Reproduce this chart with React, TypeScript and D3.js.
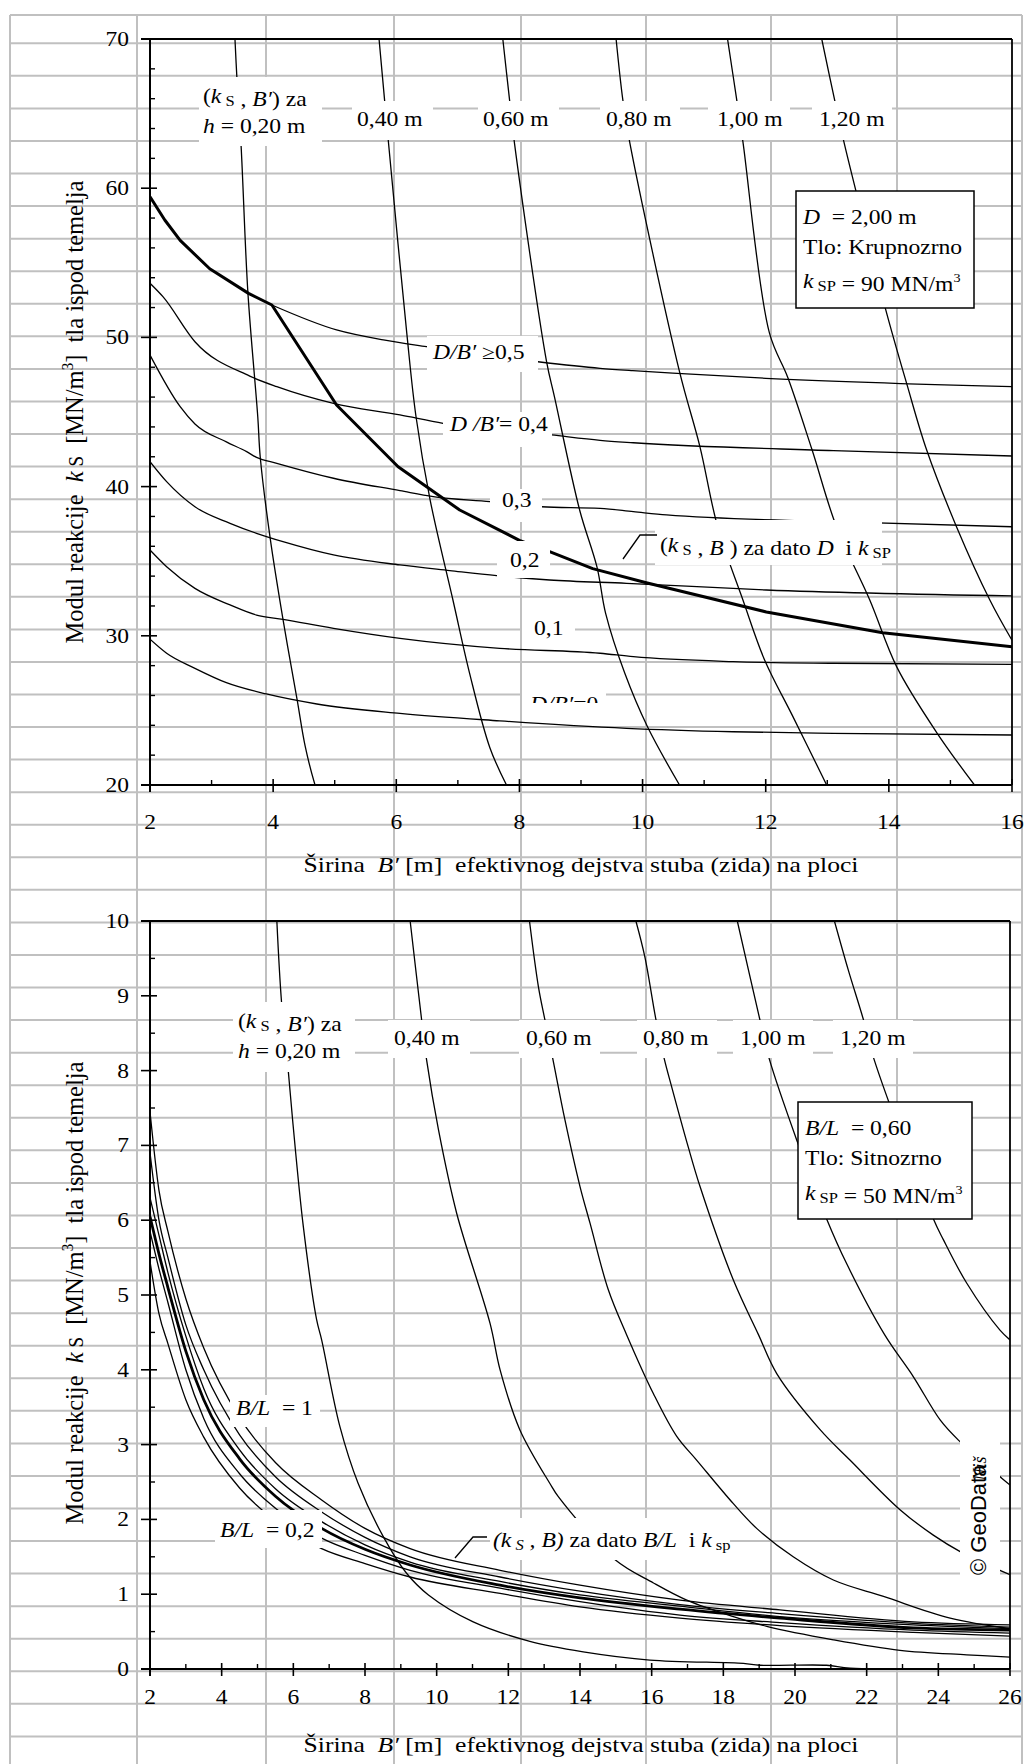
import * as d3 from 'd3';
import React from 'react';

// ---- top chart (D = 2,00 m, krupnozrno) : [B', ks] pairs ----
const topH020 = [[3.38, 70], [3.41, 67.5], [3.48, 62.8], [3.59, 53], [3.75, 44.7], [3.79, 42.0], [3.95, 36.6], [4.16, 31.1], [4.39, 25.7], [4.52, 22.6], [4.68, 20]];
const topH040 = [[5.72, 70], [5.81, 65.9], [5.87, 63.2], [6.17, 50.3], [6.32, 44.7], [6.55, 39.1], [6.92, 32.4], [7.19, 27.5], [7.52, 22.5], [7.79, 20]];
const topH060 = [[7.73, 70], [7.84, 65.9], [7.92, 63.0], [8.44, 48.4], [8.57, 46], [8.98, 38.4], [9.26, 34.6], [9.4, 31.5], [9.71, 27.5], [10.08, 23.9], [10.6, 20]];
const topH080 = [[9.57, 70], [9.68, 65.9], [9.79, 63.1], [10.6, 47.7], [10.93, 42.7], [11.22, 37.3], [11.63, 32.4], [11.98, 28.4], [12.44, 24.6], [12.99, 20]];
const topH100 = [[11.38, 70], [11.53, 65.9], [11.63, 63.1], [12.06, 50.3], [12.36, 47.3], [12.75, 42.5], [13.15, 37.3], [13.69, 32.4], [14.13, 27.9], [14.78, 23.5], [15.39, 20]];
const topH120 = [[12.91, 70], [13.12, 65.9], [13.27, 63.1], [13.46, 59.9], [13.94, 52.0], [14.29, 46.9], [14.61, 42.5], [15.1, 37.3], [15.64, 32.4], [16, 29.7]];

const dbGe05 = [[3.98, 52.17], [5.03, 50.5], [5.79, 49.83], [6.49, 49.38], [8.3, 48.37], [9.31, 47.93], [9.84, 47.77], [10.49, 47.6], [12.0, 47.26], [16, 46.7]];
const db04 = [[2, 53.63], [2.21, 52.73], [2.73, 49.71], [3.62, 47.41], [4.06, 46.7], [4.98, 45.58], [6.06, 44.8], [6.76, 44.24], [8.52, 43.46], [9.31, 43.1], [9.85, 42.94], [13.1, 42.41], [16, 42.05]];
const db03 = [[2, 48.82], [2.49, 45.36], [2.73, 44.2], [3.24, 43.0], [3.57, 42.34], [3.73, 41.96], [4.06, 41.56], [4.98, 40.56], [6.06, 39.73], [6.6, 39.33], [7.52, 38.99], [8.36, 38.65], [9.31, 38.54], [9.85, 38.32], [10.39, 38.1], [13.1, 37.65], [16, 37.31]];
const db02 = [[2, 41.67], [2.27, 40.33], [2.73, 38.65], [3.3, 37.54], [3.73, 36.87], [4.16, 36.31], [4.98, 35.42], [6.06, 34.75], [6.87, 34.37], [7.63, 34.03], [8.49, 33.74], [9.74, 33.52], [12.01, 33.07], [16, 32.67]];
const db01 = [[2, 35.75], [2.27, 34.63], [2.73, 33.18], [3.3, 32.07], [3.73, 31.39], [4.16, 31.1], [4.98, 30.5], [6.06, 29.83], [7.68, 29.16], [9.31, 28.83], [9.85, 28.6], [11.47, 28.27], [13.1, 28.16], [16, 28.09]];
const db00 = [[2, 29.77], [2.27, 28.83], [2.73, 27.82], [3.24, 26.86], [3.89, 26.1], [4.71, 25.43], [6.06, 24.8], [7.68, 24.3], [9.74, 23.8], [11.47, 23.57], [13.1, 23.46], [16, 23.35]];
const topGiven = [[2, 59.43], [2.24, 57.87], [2.49, 56.5], [2.97, 54.6], [3.6, 52.95], [3.98, 52.17], [5.03, 45.47], [6.03, 41.33], [7.03, 38.43], [8.0, 36.4], [8.49, 35.64], [9.19, 34.5], [10.06, 33.56], [12.01, 31.6], [13.9, 30.2], [16, 29.27]];

// ---- bottom chart (B/L = 0,60, sitnozrno) ----
const botH020 = [[5.54, 10], [5.67, 8.92], [5.86, 7.99], [5.98, 7.34], [6.28, 5.91], [6.65, 4.67], [6.79, 4.4], [7.3, 3.24], [7.81, 2.48], [8.51, 1.77], [9.16, 1.28], [9.77, 0.99], [11.02, 0.63], [12.6, 0.37], [14.09, 0.23], [15.95, 0.12], [18.56, 0.076], [19.02, 0.05], [20.88, 0.05], [21.54, 0.01], [26, 0]];
const botH040 = [[9.26, 10], [9.58, 8.68], [9.72, 8.14], [10.05, 7.21], [10.56, 6.09], [11.49, 4.62], [11.77, 4.0], [12.32, 3.2], [13.16, 2.48], [13.4, 2.3], [14.98, 1.46], [16.05, 1.15], [16.98, 0.92], [18.28, 0.7], [19.21, 0.57], [21.07, 0.39], [22.93, 0.25], [24.79, 0.19], [26, 0.16]];
const botH060 = [[12.59, 10], [12.84, 9.12], [13.02, 8.68], [13.24, 8.16], [13.58, 7.34], [14.0, 6.45], [14.28, 5.96], [14.79, 5.07], [15.3, 4.47], [16.05, 3.68], [16.7, 3.11], [17.26, 2.79], [18.28, 2.21], [18.93, 1.88], [19.95, 1.5], [21.07, 1.19], [22.47, 0.97], [24.33, 0.68], [26, 0.54]];
const botH080 = [[15.56, 10], [15.81, 9.52], [16.12, 8.68], [16.35, 8.16], [16.56, 7.78], [17.02, 6.98], [17.35, 6.45], [18.28, 5.2], [18.98, 4.47], [19.49, 3.95], [20.7, 3.2], [21.54, 2.79], [22.93, 2.13], [23.86, 1.79], [24.61, 1.57], [26, 1.26]];
const botH100 = [[18.39, 10], [19.02, 8.68], [19.28, 8.16], [20.05, 7.07], [20.88, 6.02], [21.44, 5.42], [22.5, 4.47], [23.3, 3.91], [24.05, 3.33], [24.56, 3.06], [25.77, 2.55], [26, 2.46]];
const botH120 = [[21.1, 10], [21.49, 9.34], [21.91, 8.68], [22.2, 8.16], [23.86, 6.02], [24.14, 5.74], [24.79, 5.16], [25.72, 4.53], [26, 4.4]];

const bundleB = [2, 2.25, 2.5, 3, 3.5, 4.5, 5.5, 6.79, 8, 9.26, 11.77, 14, 16.79, 19.58, 23.3, 26];
const blOne = [7.45, 6.4, 5.85, 4.95, 4.29, 3.36, 2.76, 2.26, 1.88, 1.61, 1.32, 1.12, 0.92, 0.79, 0.63, 0.59];
const blSecond = [6.9, 6.0, 5.5, 4.6, 4.0, 3.13, 2.57, 2.1, 1.76, 1.5, 1.23, 1.04, 0.86, 0.74, 0.61, 0.56];
const blThird = [6.3, 5.8, 5.3, 4.45, 3.75, 2.93, 2.41, 1.97, 1.66, 1.43, 1.17, 0.99, 0.84, 0.7, 0.59, 0.54];
const blGiven = [6.05, 5.55, 5.1, 4.25, 3.6, 2.81, 2.31, 1.88, 1.6, 1.39, 1.12, 0.95, 0.8, 0.68, 0.55, 0.52];
const blFourth = [5.85, 5.35, 4.9, 4.0, 3.35, 2.61, 2.15, 1.75, 1.52, 1.32, 1.08, 0.9, 0.72, 0.62, 0.52, 0.48];
const blPoint2 = [5.45, 4.75, 4.35, 3.6, 3.1, 2.42, 1.98, 1.61, 1.41, 1.23, 1.01, 0.83, 0.68, 0.58, 0.49, 0.44];

const hLabels = ['0,40 m', '0,60 m', '0,80 m', '1,00 m', '1,20 m'];
const topYTicks = [20, 30, 40, 50, 60, 70];
const topXTicks = [2, 4, 6, 8, 10, 12, 14, 16];
const botYTicks = [0, 1, 2, 3, 4, 5, 6, 7, 8, 9, 10];
const botXTicks = [2, 4, 6, 8, 10, 12, 14, 16, 18, 20, 22, 24, 26];

const SERIF = "'Liberation Serif','Times New Roman',serif";
const SX = 1.18;
const W = 1034, H = 1764;

// spreadsheet grid behind everything
const sheetCols = [10, 137, 266, 394, 521, 646, 771, 897, 1022];
const sheetRows = [15].concat(d3.range(53).map(k => 43.3 + k * 32.56));

function T({ x, y, size = 20, sx = SX, anchor = 'start', children }) {
  return (
    <g transform={`translate(${x},${y}) scale(${sx},1)`}>
      <text fontSize={size} textAnchor={anchor} fontFamily={SERIF} xmlSpace="preserve" style={{ whiteSpace: 'pre' }}>
        {children}
      </text>
    </g>
  );
}

const Sub = ({ t, size = 14 }) => (
  <>
    <tspan fontSize={size} dy={3}>{t}</tspan>
    <tspan dy={-3}>{''}</tspan>
  </>
);

function WBox({ x0, x1, y0, y1 }) {
  return <rect x={x0} y={y0} width={x1 - x0} height={y1 - y0} fill="#fff" />;
}

function Frame({ xs, ys, xTicks, yTicks, xMinor, yMinor, labelY }) {
  const [a, b] = xs.range();
  const [bot, top] = ys.range();
  return (
    <g stroke="#000" fill="none">
      <line x1={a - 9} x2={b} y1={top} y2={top} strokeWidth={1.8} />
      <line x1={b} x2={b} y1={top} y2={bot} strokeWidth={1.8} />
      <line x1={a - 9} x2={b} y1={bot} y2={bot} strokeWidth={2} />
      <line x1={a} x2={a} y1={top} y2={bot + 7} strokeWidth={2} />
      {yTicks.map(t => <line key={'ym' + t} x1={a - 9} x2={a + 7} y1={ys(t)} y2={ys(t)} strokeWidth={1.6} />)}
      {yMinor.map(t => <line key={'yn' + t} x1={a} x2={a + 5} y1={ys(t)} y2={ys(t)} strokeWidth={1.4} />)}
      {xTicks.map(t => <line key={'xm' + t} x1={xs(t)} x2={xs(t)} y1={bot - 6} y2={bot + 7} strokeWidth={1.6} />)}
      {xMinor.map(t => <line key={'xn' + t} x1={xs(t)} x2={xs(t)} y1={bot - 5} y2={bot} strokeWidth={1.4} />)}
      <g stroke="none" fill="#000">
        {yTicks.map(t => <T key={'yl' + t} x={129} y={ys(t) + 7} size={21} sx={1.12} anchor="end">{String(t)}</T>)}
        {xTicks.map(t => <T key={'xl' + t} x={xs(t)} y={labelY} size={21} sx={1.12} anchor="middle">{String(t)}</T>)}
      </g>
    </g>
  );
}

function YTitle({ cy }) {
  return (
    <g transform={`translate(83,${cy}) scale(1.06,1) rotate(-90)`}>
      <text fontSize={24.5} textAnchor="middle" fontFamily={SERIF} xmlSpace="preserve" style={{ whiteSpace: 'pre' }}>
        {'Modul reakcije  '}<tspan fontStyle="italic">k</tspan><tspan fontSize={19}>{' S'}</tspan>
        {'  [MN/m'}<tspan fontSize={15} dy={-9}>3</tspan><tspan dy={9}>{']  tla ispod temelja'}</tspan>
      </text>
    </g>
  );
}

function XTitle({ y }) {
  return (
    <T x={581} y={y} size={22} sx={1.165} anchor="middle">
      {'Širina  '}<tspan fontStyle="italic">B′</tspan>{' [m]  efektivnog dejstva stuba (zida) na ploci'}
    </T>
  );
}

export default function App() {
  const x1 = d3.scaleLinear().domain([2, 16]).range([150, 1012]);
  const y1 = d3.scaleLinear().domain([20, 70]).range([785, 39]);
  const x2 = d3.scaleLinear().domain([2, 26]).range([150, 1010]);
  const y2 = d3.scaleLinear().domain([0, 10]).range([1669, 921]);

  // steep (h) families are smoothed along their own path, flat families stay monotone in B
  const steep1 = d3.line().x(d => x1(d[0])).y(d => y1(d[1])).curve(d3.curveCatmullRom.alpha(0.5));
  const flat1 = d3.line().x(d => x1(d[0])).y(d => y1(d[1])).curve(d3.curveMonotoneX);
  const given1 = d3.line().x(d => x1(d[0])).y(d => y1(d[1]));
  const steep2 = d3.line().x(d => x2(d[0])).y(d => y2(d[1])).curve(d3.curveCatmullRom.alpha(0.5));
  const flat2 = d3.line().x(d => x2(d[0])).y(d => y2(d[1])).curve(d3.curveMonotoneX);
  const zipB = vals => bundleB.map((b, i) => [b, vals[i]]);

  const topSteep = [topH020, topH040, topH060, topH080, topH100, topH120];
  const topFlat = [dbGe05, db04, db03, db02, db01, db00];
  const botSteep = [botH020, botH040, botH060, botH080, botH100, botH120];
  const botFlat = [blOne, blSecond, blThird, blFourth, blPoint2].map(zipB);

  const topXMinor = d3.range(3, 16, 2);
  const topYMinor = d3.range(22, 70, 2).filter(v => v % 10 !== 0);
  const botXMinor = d3.range(3, 26, 2);
  const botYMinor = d3.range(0.5, 10, 1);

  const topLabelBoxes = [[352, 433], [478, 559], [600, 680], [708, 790], [812, 892]];
  const topLabelX = [357, 483, 606, 717, 819];
  const botLabelBoxes = [[388, 470], [519, 600], [637, 717], [733, 813], [833, 913]];
  const botLabelX = [394, 526, 643, 740, 840];

  return (
    <svg width={W} height={H} style={{ position: 'absolute', left: 0, top: 0, background: '#fff' }} fontFamily={SERIF}>
      <defs>
        <clipPath id="c1"><rect x={150} y={39} width={862} height={746} /></clipPath>
        <clipPath id="c2"><rect x={150} y={921} width={860} height={748} /></clipPath>
        <clipPath id="cut0"><rect x={500} y={680} width={140} height={23} /></clipPath>
      </defs>
      <rect width={W} height={H} fill="#fff" />

      <g stroke="#c0c0c0" strokeWidth={2}>
        {sheetCols.map(c => <line key={'c' + c} x1={c} x2={c} y1={15} y2={H} />)}
        {sheetRows.map(r => <line key={'r' + r} x1={10} x2={1022} y1={r} y2={r} />)}
      </g>

      {/* ---------- top chart ---------- */}
      <g clipPath="url(#c1)" fill="none" stroke="#000">
        {topSteep.map((d, i) => <path key={'s' + i} d={steep1(d)} strokeWidth={1.3} />)}
        {topFlat.map((d, i) => <path key={'f' + i} d={flat1(d)} strokeWidth={1.3} />)}
        <path d={given1(topGiven)} strokeWidth={3} strokeLinejoin="round" />
      </g>
      <Frame xs={x1} ys={y1} xTicks={topXTicks} yTicks={topYTicks} xMinor={topXMinor} yMinor={topYMinor} labelY={829} />

      <WBox x0={199} x1={322} y0={77} y1={146} />
      <T x={203} y={103}>{'('}<tspan fontStyle="italic">k</tspan><Sub t=" S" />{' , '}<tspan fontStyle="italic">B′</tspan>{') za'}</T>
      <T x={203} y={133}><tspan fontStyle="italic">h</tspan>{' = 0,20 m'}</T>
      {hLabels.map((l, i) => (
        <g key={l}>
          <WBox x0={topLabelBoxes[i][0]} x1={topLabelBoxes[i][1]} y0={101} y1={140} />
          <T x={topLabelX[i]} y={126}>{l}</T>
        </g>
      ))}

      <WBox x0={427} x1={538} y0={336} y1={372} />
      <T x={433} y={359}><tspan fontStyle="italic">D/B′</tspan>{' ≥0,5'}</T>
      <WBox x0={443} x1={552} y0={412} y1={447} />
      <T x={450} y={431}><tspan fontStyle="italic">D</tspan>{' '}<tspan fontStyle="italic">/B′</tspan>{'= 0,4'}</T>
      <WBox x0={490} x1={542} y0={489} y1={522} />
      <T x={502} y={507}>0,3</T>
      <WBox x0={497} x1={550} y0={541} y1={578} />
      <T x={510} y={567}>0,2</T>
      <WBox x0={522} x1={575} y0={612} y1={645} />
      <T x={534} y={635}>0,1</T>
      <WBox x0={522} x1={606} y0={689} y1={703} />
      <g clipPath="url(#cut0)">
        <T x={530} y={711}><tspan fontStyle="italic">D/B′</tspan>{'=0'}</T>
      </g>

      <WBox x0={655} x1={882} y0={520} y1={565} />
      <polyline points="623,559 640,535 657,535" fill="none" stroke="#000" strokeWidth={1.3} />
      <T x={660} y={552}>{'('}<tspan fontStyle="italic">k</tspan><Sub t=" S" />{' , '}<tspan fontStyle="italic">B</tspan>{' ) za dato '}<tspan fontStyle="italic">D</tspan>{'  i '}<tspan fontStyle="italic">k</tspan><Sub t=" SP" /></T>

      <rect x={796} y={191} width={178} height={117} fill="#fff" stroke="#000" strokeWidth={1.5} />
      <T x={803} y={224}><tspan fontStyle="italic">D</tspan>{'  = 2,00 m'}</T>
      <T x={803} y={254}>Tlo: Krupnozrno</T>
      <T x={803} y={288}><tspan fontStyle="italic">k</tspan><Sub t=" SP" />{' = 90 MN/m'}<tspan fontSize={12} dy={-9}>3</tspan></T>

      <YTitle cy={412} />
      <XTitle y={872} />

      {/* ---------- bottom chart ---------- */}
      <g clipPath="url(#c2)" fill="none" stroke="#000">
        {botSteep.map((d, i) => <path key={'s' + i} d={steep2(d)} strokeWidth={1.3} />)}
        {botFlat.map((d, i) => <path key={'f' + i} d={flat2(d)} strokeWidth={1.3} />)}
        <path d={flat2(zipB(blGiven))} strokeWidth={2.8} />
      </g>
      <Frame xs={x2} ys={y2} xTicks={botXTicks} yTicks={botYTicks} xMinor={botXMinor} yMinor={botYMinor} labelY={1704} />

      <WBox x0={233} x1={355} y0={1002} y1={1072} />
      <T x={238} y={1028}>{'('}<tspan fontStyle="italic">k</tspan><Sub t=" S" />{' , '}<tspan fontStyle="italic">B′</tspan>{') za'}</T>
      <T x={238} y={1058}><tspan fontStyle="italic">h</tspan>{' = 0,20 m'}</T>
      {hLabels.map((l, i) => (
        <g key={'b' + l}>
          <WBox x0={botLabelBoxes[i][0]} x1={botLabelBoxes[i][1]} y0={1020} y1={1058} />
          <T x={botLabelX[i]} y={1045}>{l}</T>
        </g>
      ))}

      <WBox x0={230} x1={320} y0={1395} y1={1427} />
      <T x={236} y={1415}><tspan fontStyle="italic">B/L</tspan>{'  = 1'}</T>
      <WBox x0={215} x1={322} y0={1510} y1={1548} />
      <T x={220} y={1537}><tspan fontStyle="italic">B/L</tspan>{'  = 0,2'}</T>

      <WBox x0={490} x1={730} y0={1518} y1={1560} />
      <polyline points="455,1558 473,1537 487,1537" fill="none" stroke="#000" strokeWidth={1.3} />
      <T x={493} y={1547}><tspan fontStyle="italic">{'(k'}</tspan><tspan fontStyle="italic" fontSize={14} dy={3}>{' S'}</tspan><tspan dy={-3} fontStyle="italic">{' , B)'}</tspan>{' za dato '}<tspan fontStyle="italic">B/L</tspan>{'  i '}<tspan fontStyle="italic">k</tspan><Sub t=" sp" /></T>

      <rect x={798} y={1102} width={174} height={117} fill="#fff" stroke="#000" strokeWidth={1.5} />
      <T x={805} y={1135}><tspan fontStyle="italic">B/L</tspan>{'  = 0,60'}</T>
      <T x={805} y={1165}>Tlo: Sitnozrno</T>
      <T x={805} y={1200}><tspan fontStyle="italic">k</tspan><Sub t=" SP" />{' = 50 MN/m'}<tspan fontSize={12} dy={-9}>3</tspan></T>

      <WBox x0={960} x1={1000} y0={1440} y1={1576} />
      <g transform="translate(986,1575) rotate(-90)">
        <text fontSize={22} fontFamily="'Liberation Sans',Arial,sans-serif">
          {'© GeoData'}<tspan dx={-16} fontFamily={SERIF} fontStyle="italic" fontSize={18}>Niš</tspan>
        </text>
      </g>

      <YTitle cy={1293} />
      <XTitle y={1752} />
    </svg>
  );
}
